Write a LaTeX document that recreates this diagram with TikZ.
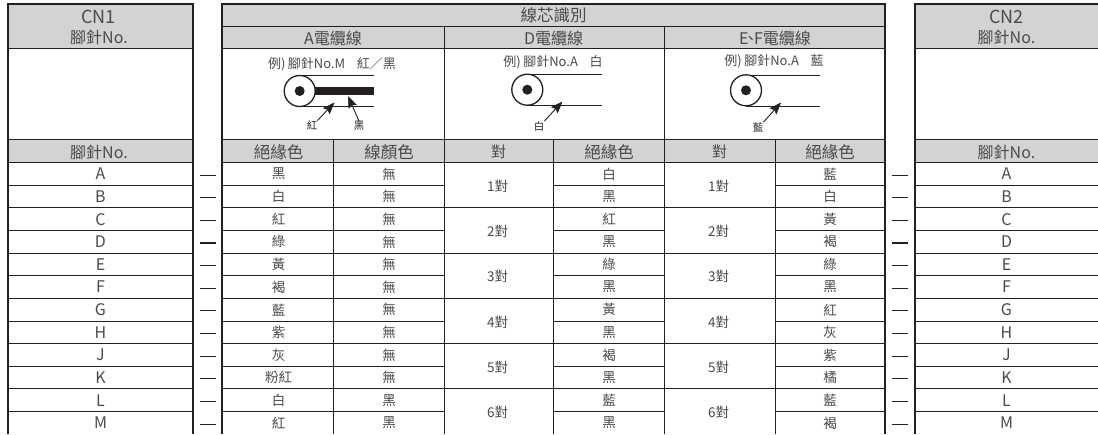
\documentclass[tikz,border=0pt]{standalone}
\usepackage{fontspec}
\setmainfont{Noto Sans CJK TC}[Scale=1]
\usetikzlibrary{arrows.meta}
\definecolor{hdr}{HTML}{D1D3D4}
\definecolor{ink}{HTML}{231F20}
\definecolor{txt}{HTML}{4A4A4A}
\tikzset{
  thinrule/.style={draw=ink,line width=0.9pt},
  thickrule/.style={draw=ink,line width=2pt},
  dashrule/.style={draw=ink,line width=1.1pt},
  wire/.style={draw=ink,line width=1pt},
  head/.style={fill=hdr,draw=none},
  big/.style={text=txt,inner sep=0pt,font=\fontsize{16.5}{17}\selectfont},
  mid/.style={text=txt,inner sep=0pt,font=\fontsize{16}{16}\selectfont},
  cellt/.style={text=txt,inner sep=0pt,font=\fontsize{13.5}{14}\selectfont},
  note/.style={text=txt,inner sep=0pt,font=\fontsize{13}{13}\selectfont},
  tiny/.style={text=ink,inner sep=0pt,font=\fontsize{10.5}{11}\selectfont},
  pointer/.style={draw=ink,line width=0.9pt,-{Stealth[length=12pt,width=9pt,inset=2pt,fill=ink,line width=0.5pt]}},
}
\begin{document}
\begin{tikzpicture}[x=1pt,y=-1pt]
\useasboundingbox (0,0) rectangle (1098,434);
% header fills
\fill[head] (7.5,4) rectangle (193,48);
\fill[head] (7.5,139) rectangle (193,162.5);
\fill[head] (222,4) rectangle (885,48);
\fill[head] (222,139) rectangle (885,162.5);
\fill[head] (914.5,4) rectangle (1098,48);
\fill[head] (914.5,139) rectangle (1098,162.5);
% header horizontal rules
\foreach \yy in {48,139,162.5}{
  \draw[thinrule] (7.5,\yy) -- (193,\yy);
  \draw[thinrule] (222,\yy) -- (885,\yy);
  \draw[thinrule] (914.5,\yy) -- (1098,\yy);
}
\draw[thinrule] (222,26) -- (885,26);
% body rows
\foreach \r in {1,...,11}{
  \pgfmathsetmacro{\yy}{162.5+22.64*\r}
  \draw[thinrule] (7.5,\yy) -- (193,\yy);
  \draw[thinrule] (222,\yy) -- (444.5,\yy);
  \draw[thinrule] (553.5,\yy) -- (664.5,\yy);
  \draw[thinrule] (775,\yy) -- (885,\yy);
  \draw[thinrule] (914.5,\yy) -- (1098,\yy);
}
\foreach \r in {2,4,...,10}{
  \pgfmathsetmacro{\yy}{162.5+22.64*\r}
  \draw[thinrule] (444,\yy) -- (553.5,\yy);
  \draw[thinrule] (664.5,\yy) -- (775,\yy);
}
% verticals
\draw[thinrule] (444,26) -- (444,434);
\draw[thinrule] (664.5,26) -- (664.5,434);
\draw[thinrule] (333.5,139) -- (333.5,434);
\draw[thinrule] (553.5,139) -- (553.5,434);
\draw[thinrule] (775,139) -- (775,434);
% outer frames
\draw[thickrule] (7.5,434) -- (7.5,4) -- (193,4) -- (193,434);
\draw[thickrule] (222,434) -- (222,4) -- (885,4) -- (885,434);
\draw[thickrule] (914.5,434) -- (914.5,4) -- (1098,4);
% header texts
\node[big,font=\fontsize{18}{18}\selectfont] (cnone) at (98.5,17) {CN1};
\node[mid] (pinone) at (99,37) {腳針No.};
\node[big] (title) at (553.5,15) {線芯識別};
\node[mid] (cabA) at (333,38) {A電纜線};
\node[mid] (cabD) at (553.5,38) {D電纜線};
\node[mid] (cabE) at (775,38) {E\kern-0.35em、\kern-0.3em F電纜線};
\node[big,font=\fontsize{18}{18}\selectfont] (cntwo) at (1006.5,17) {CN2};
\node[mid] (pintwo) at (1006.5,37) {腳針No.};
% column heads
\node[mid] (hl) at (99,152) {腳針No.};
\node[big] (ha) at (278.5,152) {絕緣色};
\node[big] (hb) at (389,152) {線顏色};
\node[mid,font=\fontsize{15}{15}\selectfont] (hc) at (498.5,151.5) {對};
\node[big] (hd) at (609,152) {絕緣色};
\node[mid,font=\fontsize{15}{15}\selectfont] (he) at (719.5,151.5) {對};
\node[big] (hf) at (830,152) {絕緣色};
\node[mid] (hr) at (1006.5,152) {腳針No.};
% rows
\foreach \r/\p/\a/\b/\d/\f in {
 0/A/黑/無/白/藍, 1/B/白/無/黑/白, 2/C/紅/無/紅/黃, 3/D/綠/無/黑/褐,
 4/E/黃/無/綠/綠, 5/F/褐/無/黑/黑, 6/G/藍/無/黃/紅, 7/H/紫/無/黑/灰,
 8/J/灰/無/褐/紫, 9/K/粉紅/無/黑/橘, 10/L/白/黑/藍/藍, 11/M/紅/黑/黑/褐}{
  \pgfmathsetmacro{\yy}{162.5+22.64*\r+11.4}
  \node[mid] (lp\r) at (100.5,\yy) {\p};
  \node[cellt] (ca\r) at (278.5,\yy) {\a};
  \node[cellt] (cb\r) at (389,\yy) {\b};
  \node[cellt] (cd\r) at (609,\yy) {\d};
  \node[cellt] (cf\r) at (830,\yy) {\f};
  \node[mid] (rp\r) at (1006.5,\yy) {\p};
  \pgfmathsetmacro{\dy}{162.5+22.64*\r+12.6}
  \coordinate (dla\r) at (200,\dy);
  \coordinate (dlb\r) at (216,\dy);
  \coordinate (dra\r) at (892,\dy);
  \coordinate (drb\r) at (907.5,\dy);
  \draw[dashrule] (dla\r) -- (dlb\r);
  \draw[dashrule] (dra\r) -- (drb\r);
}
\foreach \n/\r in {1/0,2/2,3/4,4/6,5/8,6/10}{
  \pgfmathsetmacro{\yy}{162.5+22.64*\r+23.6}
  \node[cellt] (pd\n) at (497.5,\yy) {\n 對};
  \node[cellt] (pe\n) at (718.5,\yy) {\n 對};
}
% A diagram
\node[note] (exA) at (332,64) {例)\kern0.2em 腳針No.M\hspace{0.9em}紅／黑};
\coordinate (acirc) at (299.7,91);
\coordinate (atopa) at (300,75.5); \coordinate (atopb) at (374,75.5);
\coordinate (abota) at (300,106.5); \coordinate (abotb) at (374,106.5);
\coordinate (abara) at (312,91); \coordinate (abarb) at (374,91);
\draw[wire] (atopa) -- (atopb);
\draw[wire] (abota) -- (abotb);
\draw[draw=ink,line width=8pt] (abara) -- (abarb);
\draw[wire,fill=white,line width=1.3pt] (acirc) circle (15.5);
\fill[ink] (acirc) circle (5);
\node[tiny] (lblAr) at (312,125.5) {紅};
\node[tiny] (lblAk) at (359,126) {黑};
\coordinate (arA) at (334.5,102.5);
\coordinate (akA) at (348,96);
\draw[pointer] (lblAr.north east) -- (arA);
\draw[pointer] (lblAk.north) -- (akA);
% D diagram
\node[note] (exD) at (553,62) {例)\kern0.2em 腳針No.A\hspace{0.9em}白};
\coordinate (dcirc) at (527.3,89.7);
\coordinate (dtopa) at (527.3,74.5); \coordinate (dtopb) at (601.7,74.5);
\coordinate (dbota) at (527.3,105.5); \coordinate (dbotb) at (601.7,105.5);
\draw[wire] (dtopa) -- (dtopb);
\draw[wire] (dbota) -- (dbotb);
\draw[wire,fill=white,line width=1.3pt] (dcirc) circle (15.5);
\fill[ink] (dcirc) circle (5);
\node[tiny] (lblD) at (539,126) {白};
\coordinate (arD) at (562.5,101.5);
\draw[pointer] (lblD.north east) -- (arD);
% E diagram
\node[note] (exE) at (774,61) {例)\kern0.2em 腳針No.A\hspace{0.9em}藍};
\coordinate (ecirc) at (746,90.3);
\coordinate (etopa) at (746,75.5); \coordinate (etopb) at (820,75.5);
\coordinate (ebota) at (746,106); \coordinate (ebotb) at (820,106);
\draw[wire] (etopa) -- (etopb);
\draw[wire] (ebota) -- (ebotb);
\draw[wire,fill=white,line width=1.3pt] (ecirc) circle (15.5);
\fill[ink] (ecirc) circle (5);
\node[tiny] (lblE) at (758,127) {藍};
\coordinate (arE) at (781,102.5);
\draw[pointer] (lblE.north east) -- (arE);
\end{tikzpicture}
\end{document}
